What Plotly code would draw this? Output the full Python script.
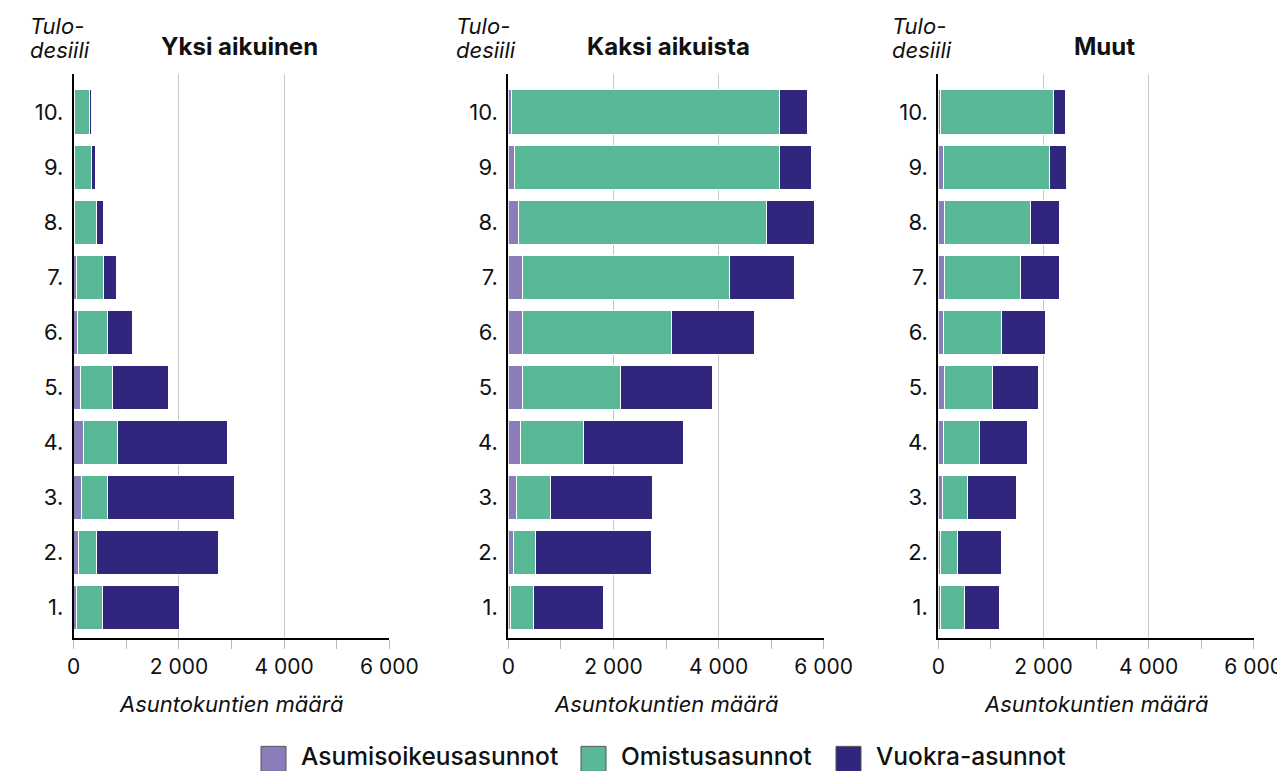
import plotly.graph_objects as go

# ---------------- data ----------------
deciles = ["1.", "2.", "3.", "4.", "5.", "6.", "7.", "8.", "9.", "10."]
panel_titles = ["Yksi aikuinen", "Kaksi aikuista", "Muut"]
series_names = ["Asumisoikeusasunnot", "Omistusasunnot", "Vuokra-asunnot"]
series_colors = ["#8B7DB9", "#59B997", "#31267E"]

# Yksi aikuinen
yksi_asumisoikeus = [44, 83, 140, 184, 133, 70, 51, 15, 10, 8]
yksi_omistus = [502, 342, 501, 641, 604, 571, 514, 417, 327, 291]
yksi_vuokra = [1473, 2337, 2413, 2096, 1073, 470, 254, 127, 82, 44]

# Kaksi aikuista
kaksi_asumisoikeus = [51, 102, 165, 235, 267, 279, 267, 203, 114, 57]
kaksi_omistus = [425, 412, 635, 1194, 1860, 2826, 3943, 4712, 5036, 5093]
kaksi_vuokra = [1340, 2216, 1943, 1911, 1765, 1588, 1226, 914, 616, 546]

# Muut
muut_asumisoikeus = [38, 51, 83, 95, 114, 108, 127, 127, 102, 44]
muut_omistus = [451, 311, 476, 686, 921, 1099, 1435, 1626, 2006, 2153]
muut_vuokra = [667, 838, 927, 915, 864, 838, 737, 552, 330, 216]

panel_data = [
    [yksi_asumisoikeus, yksi_omistus, yksi_vuokra],
    [kaksi_asumisoikeus, kaksi_omistus, kaksi_vuokra],
    [muut_asumisoikeus, muut_omistus, muut_vuokra],
]

x_title = "Asuntokuntien määrä"
y_title_lines = ["Tulo-", "desiili"]

# ---------------- layout geometry (screen pixels) ----------------
SCREEN_W, SCREEN_H = 1285, 771
BODY = 8  # default page margin around the figure
W, H = SCREEN_W - BODY, SCREEN_H - BODY
PLOT_TOP, PLOT_BOTTOM = 74, 637.7
domains_px = [(73.7, 389.3), (508.3, 823.7), (938.3, 1253.7)]
title_centers_px = [239.5, 668.7, 1104.8]
ytitle_left_px = [28, 454, 890]

FONT = "Inter"
TXT = "#111111"


def px_x(p):
    return (p - BODY) / W


def px_y(p):
    return (PLOT_BOTTOM - p) / (PLOT_BOTTOM - PLOT_TOP)


fig = go.Figure()

for i, series in enumerate(panel_data):
    suffix = "" if i == 0 else str(i + 1)
    for name, vals, col in zip(series_names, series, series_colors):
        fig.add_trace(go.Bar(
            x=vals, y=deciles, orientation="h", name=name,
            marker=dict(color=col, line=dict(color="white", width=1)),
            xaxis="x" + suffix, yaxis="y" + suffix, showlegend=False,
        ))

layout = dict(
    width=W, height=H,
    margin=dict(l=0, r=0, t=PLOT_TOP - BODY, b=SCREEN_H - PLOT_BOTTOM, autoexpand=False),
    paper_bgcolor="white", plot_bgcolor="white",
    barmode="stack", bargap=0.2,
    separators=", ",
    font=dict(family=FONT, color=TXT),
)

annotations = []
shapes = []
for i in range(3):
    suffix = "" if i == 0 else str(i + 1)
    d0, d1 = domains_px[i]
    layout["xaxis" + suffix] = dict(
        domain=[px_x(d0), px_x(d1)], anchor="y" + suffix,
        automargin=False,
        range=[0, 6000], tick0=0, dtick=2000, tickformat=",",
        showgrid=True, gridcolor="#c8c8c8", gridwidth=1,
        zeroline=False,
        showline=True, linecolor="black", linewidth=2,
        ticks="outside", ticklen=9, tickcolor="#bbbbbb", tickwidth=1,
        minor=dict(dtick=1000, ticks="outside", ticklen=9,
                   tickcolor="#bbbbbb", showgrid=False),
        tickfont=dict(size=21, family=FONT, color=TXT),
        fixedrange=True,
    )
    layout["yaxis" + suffix] = dict(
        domain=[0, 1], anchor="x" + suffix,
        automargin=False,
        type="category", categoryorder="array", categoryarray=deciles,
        range=[-0.555, 9.69],
        showgrid=False, zeroline=False,
        showline=True, linecolor="black", linewidth=2,
        ticks="", ticklabelstandoff=4,
        tickfont=dict(size=22, family=FONT, color=TXT),
        fixedrange=True,
    )
    # panel title
    annotations.append(dict(
        text="<b>" + panel_titles[i] + "</b>", xref="paper", yref="paper",
        x=px_x(title_centers_px[i]), y=px_y(47), xanchor="center", yanchor="middle",
        showarrow=False, font=dict(size=24, family=FONT, color=TXT),
    ))
    # y-axis title, two lines
    for line_text, cy in zip(y_title_lines, [26, 50]):
        annotations.append(dict(
            text="<i>" + line_text + "</i>", xref="paper", yref="paper",
            x=px_x(ytitle_left_px[i]), y=px_y(cy), xanchor="left", yanchor="middle",
            align="left", showarrow=False,
            font=dict(size=22, family=FONT, color=TXT),
        ))
    # x-axis title
    annotations.append(dict(
        text="<i>" + x_title + "</i>", xref="paper", yref="paper",
        x=px_x((d0 + d1) / 2), y=px_y(704), xanchor="center", yanchor="middle",
        showarrow=False, font=dict(size=22, family=FONT, color=TXT),
    ))

# manual legend (large square swatches as in the reference)
legend_square_px = [261, 581, 836]
for name, col, sx in zip(series_names, series_colors, legend_square_px):
    shapes.append(dict(
        type="rect", xref="paper", yref="paper",
        x0=px_x(sx), x1=px_x(sx + 25), y0=px_y(771), y1=px_y(746),
        fillcolor=col, line=dict(color="#555555", width=1),
    ))
    annotations.append(dict(
        text=name, xref="paper", yref="paper",
        x=px_x(sx + 38), y=px_y(755.5), xanchor="left", yanchor="middle",
        showarrow=False, font=dict(size=24.5, family=FONT, color=TXT, weight=500),
    ))

layout["annotations"] = annotations
layout["shapes"] = shapes
fig.update_layout(**layout)

fig.write_html("out.html", config={"displayModeBar": False})
